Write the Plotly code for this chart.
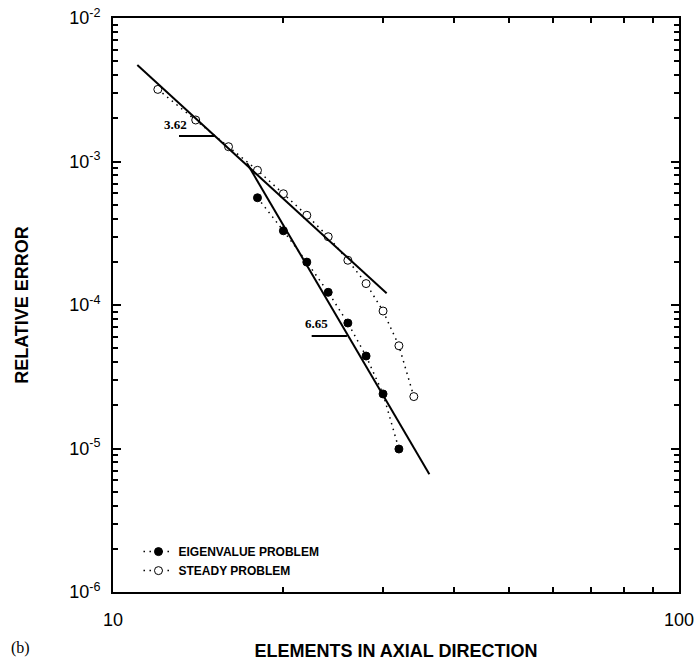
import math
import plotly.graph_objects as go

# ---- data ----
eig_x = [18, 20, 22, 24, 26, 28, 30, 32]
eig_y = [5.59e-4, 3.29e-4, 1.99e-4, 1.226e-4, 7.49e-5, 4.41e-5, 2.40e-5, 9.92e-6]

steady_x = [12, 14, 16, 18, 20, 22, 24, 26, 28, 30, 32, 34]
steady_y = [3.18e-3, 1.946e-3, 1.268e-3, 8.68e-4, 5.96e-4, 4.22e-4, 2.99e-4,
            2.05e-4, 1.41e-4, 9.08e-5, 5.2e-5, 2.30e-5]

fit_a_x = [11.04, 30.44]
fit_a_y = [4.70e-3, 1.206e-4]
fit_b_x = [17.25, 36.22]
fit_b_y = [9.72e-4, 6.61e-6]

slope_a_x = [13.08, 15.13]
slope_a_y = [1.506e-3, 1.506e-3]
slope_b_x = [22.44, 25.9]
slope_b_y = [6.08e-5, 6.08e-5]

slope_labels = ["3.62", "6.65"]
slope_label_x = [12.87, 22.9]
slope_label_y = [1.825e-3, 7.46e-5]

x_tickvals = [10, 100]
x_ticktext = ["10", "100"]
x_minor = [20, 30, 40, 50, 60, 70, 80, 90]

y_tickvals = [1e-6, 1e-5, 1e-4, 1e-3, 1e-2]
y_ticktext = ["10<sup>-6</sup>", "10<sup>-5</sup>", "10<sup>-4</sup>",
              "10<sup>-3</sup>", "10<sup>-2</sup>"]
y_minor = [m * 10.0 ** e for e in range(-6, -2) for m in range(2, 10)]

SANS = "Liberation Sans, Arial, sans-serif"
SERIF = "Liberation Serif, Times New Roman, serif"
DOT = "1.5px,4.5px"

fig = go.Figure()

fig.add_trace(go.Scatter(
    x=eig_x, y=eig_y, mode="lines+markers", name="EIGENVALUE PROBLEM",
    line=dict(color="black", width=1.5, dash=DOT),
    marker=dict(symbol="circle", size=8, color="black",
                line=dict(color="black", width=1)),
))
fig.add_trace(go.Scatter(
    x=steady_x, y=steady_y, mode="lines+markers", name="STEADY PROBLEM",
    line=dict(color="black", width=1.5, dash=DOT),
    marker=dict(symbol="circle", size=8, color="white",
                line=dict(color="black", width=1)),
))

for fx, fy in [(fit_a_x, fit_a_y), (fit_b_x, fit_b_y),
               (slope_a_x, slope_a_y), (slope_b_x, slope_b_y)]:
    fig.add_trace(go.Scatter(
        x=fx, y=fy, mode="lines", showlegend=False, hoverinfo="skip",
        line=dict(color="black", width=2),
    ))

for txt, lx, ly in zip(slope_labels, slope_label_x, slope_label_y):
    fig.add_annotation(
        x=math.log10(lx), y=math.log10(ly), xref="x", yref="y",
        text="<b>" + txt + "</b>", showarrow=False,
        font=dict(family=SERIF, size=13, color="black"),
    )

fig.add_annotation(
    x=-0.164, y=-0.098, xref="paper", yref="paper",
    xanchor="center", yanchor="middle",
    text="(b)", showarrow=False,
    font=dict(family=SERIF, size=16, color="black"),
)

axis_common = dict(
    type="log", showline=True, linecolor="black", linewidth=2,
    mirror="ticks", ticks="inside", tickcolor="black", tickwidth=1.5,
    ticklen=8, showgrid=False, zeroline=False,
    ticklabeloverflow="allow",
    tickfont=dict(family=SANS, size=18, color="black"),
)

fig.update_xaxes(
    **axis_common,
    range=[1, 2],
    tickmode="array", tickvals=x_tickvals, ticktext=x_ticktext,
    minor=dict(tickmode="array", tickvals=x_minor, ticks="inside",
               ticklen=5, tickwidth=1.5, tickcolor="black", showgrid=False),
    ticklabelstandoff=10,
    title=dict(text="<b>ELEMENTS IN AXIAL DIRECTION</b>", standoff=16,
               font=dict(family=SANS, size=18, color="black")),
)
fig.update_yaxes(
    **axis_common,
    range=[-6, -2],
    tickmode="array", tickvals=y_tickvals, ticktext=y_ticktext,
    minor=dict(tickmode="array", tickvals=y_minor, ticks="inside",
               ticklen=5, tickwidth=1.5, tickcolor="black", showgrid=False),
    ticklabelstandoff=7,
    title=dict(text="<b>RELATIVE ERROR</b>", standoff=36,
               font=dict(family=SANS, size=18, color="black")),
)

fig.update_layout(
    width=697, height=666,
    margin=dict(l=113, r=18, t=18, b=74, autoexpand=False),
    paper_bgcolor="white", plot_bgcolor="white",
    legend=dict(
        x=0.045, y=0.012, xanchor="left", yanchor="bottom",
        bgcolor="rgba(0,0,0,0)", borderwidth=0,
        font=dict(family=SANS, size=12, color="black", weight="bold"),
        tracegroupgap=0, itemwidth=30,
    ),
    showlegend=True,
)

# remove the browser's default 8px body margin so the figure fills the window
fig.write_html(
    "out.html",
    config={"displayModeBar": False},
    post_script="document.body.style.margin='0';"
                "document.body.style.overflow='hidden';",
)
